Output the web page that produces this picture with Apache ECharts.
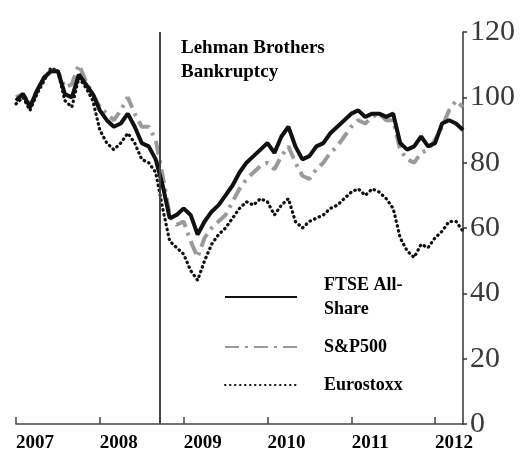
<!DOCTYPE html>
<html>
<head>
<meta charset="utf-8">
<script src="https://cdn.jsdelivr.net/npm/echarts@6/dist/echarts.min.js"></script>
<style>
  html, body { margin: 0; padding: 0; background: #fff; }
  #chart { width: 527px; height: 462px; }
</style>
</head>
<body>
<div id="chart"></div>
<script>
// monthly observations, index = 100 at start of 2007
const months = [
  '2007-01', '2007-02', '2007-03', '2007-04', '2007-05', '2007-06', '2007-07', '2007-08', '2007-09', '2007-10', '2007-11', '2007-12',
  '2008-01', '2008-02', '2008-03', '2008-04', '2008-05', '2008-06', '2008-07', '2008-08', '2008-09', '2008-10', '2008-11', '2008-12',
  '2009-01', '2009-02', '2009-03', '2009-04', '2009-05', '2009-06', '2009-07', '2009-08', '2009-09', '2009-10', '2009-11', '2009-12',
  '2010-01', '2010-02', '2010-03', '2010-04', '2010-05', '2010-06', '2010-07', '2010-08', '2010-09', '2010-10', '2010-11', '2010-12',
  '2011-01', '2011-02', '2011-03', '2011-04', '2011-05', '2011-06', '2011-07', '2011-08', '2011-09', '2011-10', '2011-11', '2011-12',
  '2012-01', '2012-02', '2012-03', '2012-04', '2012-05'
];
const ftse = [
  99, 101, 97, 102, 106, 108, 108, 101, 100, 107, 104, 101,
  96, 93, 91, 92, 95, 91, 86, 85, 81, 73, 63, 64,
  66, 64, 58, 62, 65, 67, 70, 73, 77, 80, 82, 84,
  86, 83, 88, 91, 85, 81, 82, 85, 86, 89, 91, 93,
  95, 96, 94, 95, 95, 94, 95, 86, 84, 85, 88, 85,
  86, 92, 93, 92, 90
];
const sp500 = [
  100, 101, 98, 102, 106, 108, 108, 103, 104, 110, 105, 101,
  97, 95, 93, 96, 100, 95, 91, 91, 87, 76, 64, 61,
  62, 56, 51, 57, 60, 62, 64, 68, 72, 75, 77, 79,
  80, 78, 82, 85, 80, 76, 75, 78, 80, 83, 85, 88,
  91, 93, 92, 94, 95, 93, 93, 84, 81, 80, 83, 84,
  87, 91, 96, 99, 97
];
const eurostoxx = [
  98, 100, 96, 101, 105, 109, 108, 99, 97, 106, 103, 99,
  90, 86, 84, 86, 89, 86, 81, 80, 77, 66, 56, 54,
  52, 47, 44, 50, 55, 58, 60, 63, 66, 68, 67, 69,
  68, 64, 67, 69, 62, 60, 62, 63, 64, 66, 67, 69,
  71, 72, 70, 72, 71, 69, 66, 57, 53, 51, 55, 54,
  57, 59, 62, 62, 59
];
const seriesNames = ['FTSE All-\nShare', 'S&P500', 'Eurostoxx'];
const lehmanDate = 2008.71;

function toYear(m) {
  const p = m.split('-');
  return Number(p[0]) + (Number(p[1]) - 1) / 12;
}
function pairs(vals) {
  return months.map((m, i) => [toYear(m), vals[i]]);
}

const serif = 'Liberation Serif, Times New Roman, serif';
const chart = echarts.init(document.getElementById('chart'));

chart.setOption({
  animation: false,
  title: {
    text: 'Lehman Brothers\nBankruptcy',
    left: 181,
    top: 36,
    padding: 0,
    textStyle: { fontFamily: serif, fontWeight: 'bold', fontSize: 19, lineHeight: 24, color: '#000' }
  },
  legend: {
    data: seriesNames,
    orient: 'vertical',
    left: 219,
    top: 268,
    itemWidth: 72,
    itemHeight: 14,
    itemGap: 14,
    itemStyle: { opacity: 0 },
    textStyle: {
      fontFamily: serif, fontWeight: 'bold', fontSize: 18, lineHeight: 24, color: '#000',
      padding: [0, 0, 0, 22]
    }
  },
  grid: { left: 16, right: 64, top: 32, bottom: 38 },
  xAxis: {
    type: 'value',
    min: 2007,
    max: 2012.333,
    interval: 1,
    axisLine: { lineStyle: { color: '#444', width: 1.5 } },
    axisTick: { inside: true, length: 7, lineStyle: { color: '#444', width: 1.5 } },
    splitLine: { show: false },
    axisLabel: {
      margin: 10,
      padding: [0, 0, 0, 38],
      fontFamily: serif, fontWeight: 'bold', fontSize: 19, color: '#000',
      formatter: v => String(v)
    }
  },
  yAxis: {
    type: 'value',
    position: 'right',
    min: 0,
    max: 120,
    interval: 20,
    axisLine: { show: true, lineStyle: { color: '#333', width: 1.5 } },
    axisTick: { show: true, length: 4, lineStyle: { color: '#333', width: 1.5 } },
    splitLine: { show: false },
    axisLabel: { margin: 7, fontFamily: serif, fontSize: 30, color: '#3a3a3a' }
  },
  series: [
    {
      name: seriesNames[2],
      type: 'line',
      data: pairs(eurostoxx),
      symbol: 'none',
      lineStyle: { color: '#111', width: 3.2, type: [0.5, 4.5], cap: 'round' },
      itemStyle: { color: '#111' }
    },
    {
      name: seriesNames[1],
      type: 'line',
      data: pairs(sp500),
      symbol: 'none',
      lineStyle: { color: '#9a9a9a', width: 4, type: [14, 6, 3, 6] },
      itemStyle: { color: '#9a9a9a' }
    },
    {
      name: seriesNames[0],
      type: 'line',
      data: pairs(ftse),
      symbol: 'none',
      lineStyle: { color: '#111', width: 4 },
      itemStyle: { color: '#111' },
      markLine: {
        silent: true,
        symbol: 'none',
        label: { show: false },
        lineStyle: { color: '#444', width: 2, type: 'solid' },
        data: [{ xAxis: lehmanDate }]
      }
    }
  ]
});
</script>
</body>
</html>
